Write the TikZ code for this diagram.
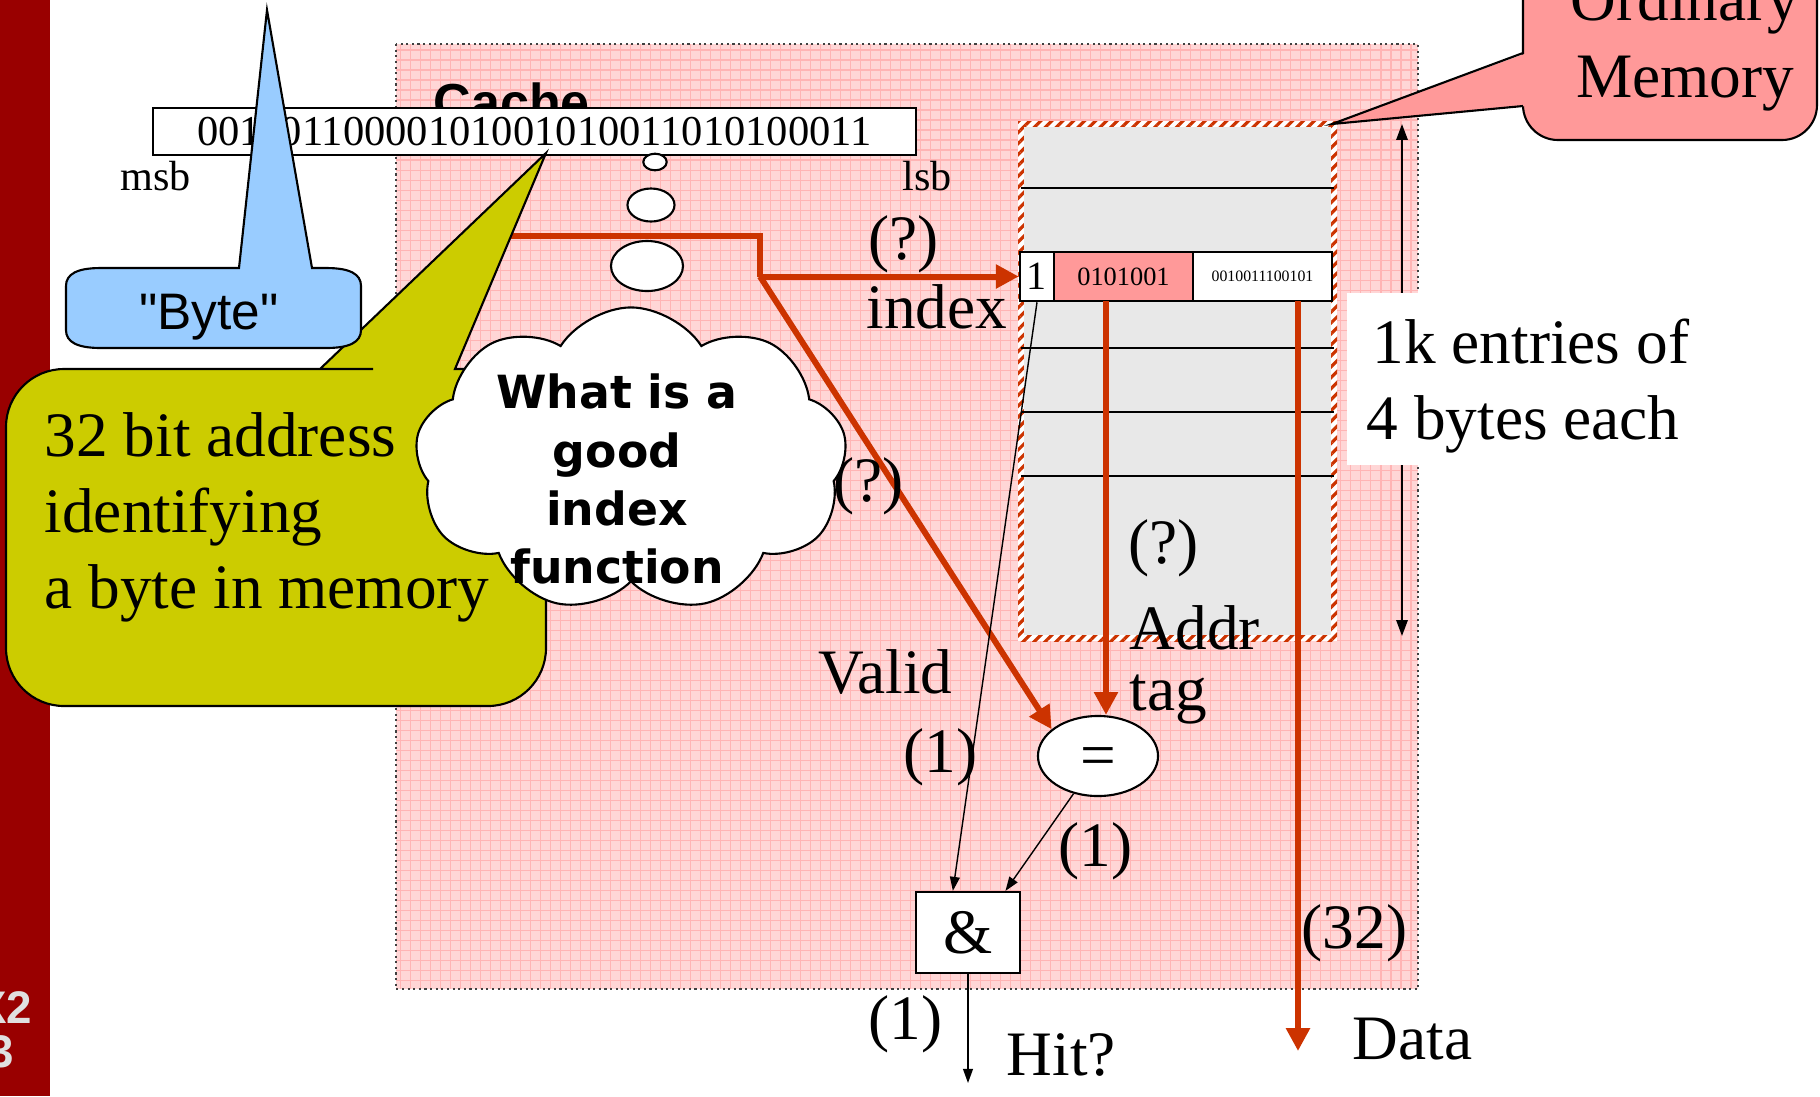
\documentclass[tikz,border=0pt]{standalone}
\usepackage{fontspec}
\setmainfont{Liberation Serif}
\newfontfamily\arialf{Liberation Sans}
\newfontfamily\verdf{DejaVu Sans}
\usetikzlibrary{arrows.meta,shapes.geometric,shapes.symbols,patterns.meta}

\definecolor{barred}{HTML}{990000}
\definecolor{barlight}{HTML}{E0E0E0}
\definecolor{cachepink}{HTML}{FFD6D6}
\definecolor{gridpink}{HTML}{FFB4B4}
\definecolor{redline}{HTML}{CC3300}
\definecolor{memgray}{HTML}{E8E8E8}
\definecolor{tagpink}{HTML}{FF9999}
\definecolor{yellowc}{HTML}{CCCC00}
\definecolor{bluec}{HTML}{99CCFF}

\newcommand{\setfs}[1]{\fontsize{#1}{#1}\selectfont}

\begin{document}
\begin{tikzpicture}[x=0.01cm,y=-0.01cm,
  lbl/.style={inner sep=0pt, anchor=base west, font=\setfs{18}},
  cell/.style={draw, fill=white, line width=0.7pt, minimum height=0.49cm, inner sep=0pt},
  redarrow/.style={redline, line width=1.7pt, -{Triangle[length=6.5pt,width=6.5pt]}},
  thinarrow/.style={line width=0.4pt, -{Triangle[length=4pt,width=2.8pt]}},
  cloudtxt/.style={inner sep=0pt, anchor=base, font=\verdf\bfseries\setfs{13}},
  bubble/.style={ellipse, draw, fill=white, line width=0.6pt, inner sep=0pt},
  bartxt/.style={inner sep=0pt, anchor=base east, font=\arialf\bfseries\setfs{13}, text=barlight}]

\useasboundingbox (0,0) rectangle (1820,1096);
\fill[white] (0,0) rectangle (1820,1096);
\fill[barred] (0,0) rectangle (50,1096);

% cache area with its grid texture
\fill[cachepink] (396,44) rectangle (1418,989);
\draw[gridpink, line width=0.35pt, step=0.1cm] (396,44) grid (1418,989);
\draw[black!75, densely dotted, line width=0.6pt] (396,44) rectangle (1418,989);
\node[lbl, font=\arialf\bfseries\setfs{14.8}] (cachelbl) at (433,120) {Cache};

% the 32-bit address
\node[draw, fill=white, line width=0.6pt, minimum width=7.63cm, minimum height=0.47cm,
      inner sep=0pt, font=\setfs{12.1}] (addr) at (534.5,131.5) {\raisebox{-0.03cm}{00110110000101001010011010100011}};
\node[lbl, font=\setfs{12}] (msb) at (120,190) {msb};
\node[lbl, font=\setfs{12}] (lsb) at (902,190) {lsb};

% memory array with hatched frame
\fill[white] (1018,121) rectangle (1337,641);
\fill[pattern={Lines[angle=45,distance=2.2pt,line width=0.9pt]}, pattern color=redline]
  (1018,121) rectangle (1337,641);
\fill[memgray] (1024,127) rectangle (1331,635);
\foreach \yy in {188,348,412,476} \draw[line width=0.45pt] (1021,\yy) -- (1334,\yy);
\node[cell, minimum width=0.34cm, font=\setfs{11.4}] (vbit) at (1037,276.5) {1};
\node[cell, fill=tagpink, minimum width=1.39cm, font=\setfs{7.5}] (tagbits) at (1123.5,276.5) {0101001};
\node[cell, minimum width=1.39cm, font=\setfs{4.5}] (databits) at (1262.5,276.5) {0010011100101};

% size of the array
\coordinate (sztop) at (1402,124);
\coordinate (szbot) at (1402,636);
\draw[line width=0.55pt, {Triangle[length=4.5pt,width=3.2pt]}-{Triangle[length=4.5pt,width=3.2pt]}] (sztop) -- (szbot);
\fill[white] (1347,293) rectangle (1500,465);
\node[lbl] (k1) at (1372,363) {1k entries of};
\node[lbl] (k2) at (1366,439) {4 bytes each};

% comparator and gate
\node[ellipse, draw, fill=white, line width=0.6pt, minimum width=1.2cm, minimum height=0.8cm,
      inner sep=0pt] (eq) at (1098,756) {};
\node[inner sep=0pt, anchor=base, font=\setfs{18}] (eqsym) at (1098,776) {=};
\node[draw, fill=white, line width=0.6pt, minimum width=1.04cm, minimum height=0.81cm,
      inner sep=0pt, font=\setfs{18}] (and) at (968,932.5) {\raisebox{-0.03cm}{\&}};

% index and data paths
\coordinate (rstart) at (490,236);
\coordinate (bend) at (760,276.5);
\draw[redline, line width=1.7pt] (rstart) -- (rstart -| bend) -- (bend);
\draw[redarrow] (bend) -- (vbit.west);
\draw[redarrow] (bend) -- (eq.150);
\coordinate (tagout) at (1106,301);
\draw[redarrow] (tagout) -- (tagout |- eq.north);
\coordinate (dataout) at (1298,301);
\coordinate (dataend) at (1298,1051);
\draw[redarrow] (dataout) -- (dataend);

\draw[thinarrow] (vbit.south) -- (and.110);
\draw[thinarrow] (eq.237) -- (and.48);
\coordinate (hitend) at (968,1083);
\draw[thinarrow] (and.south) -- (hitend);

% labels
\node[lbl] (q1) at (868,259) {(?)};
\node[lbl] (idx) at (866,328) {index};
\node[lbl] (q2) at (833,501) {(?)};
\node[lbl] (q3) at (1128,563) {(?)};
\node[lbl] (addrl) at (1129,649) {Addr};
\node[lbl] (tagl) at (1129,710) {tag};
\node[lbl] (valid) at (818,693) {Valid};
\node[lbl] (w1) at (903,772) {(1)};
\node[lbl] (w2) at (1058,866) {(1)};
\node[lbl] (w3) at (868,1039) {(1)};
\node[lbl] (w32) at (1301,948) {(32)};
\node[lbl] (hit) at (1006,1075) {Hit?};
\node[lbl] (data) at (1352,1059) {Data};

% yellow callout
\filldraw[fill=yellowc, line width=0.6pt] [rounded corners=0.58cm]
  (546,500) -- (546,706) -- (6,706) -- (6,369) -- (315,369) [sharp corners] -- (320,369)
  -- (546,153) -- (455,369) -- (460,369) [rounded corners=0.58cm] -- (546,369) -- cycle;
\node[lbl] (y1) at (44,456) {32 bit address};
\node[lbl] (y2) at (44,532) {identifying};
\node[lbl] (y3) at (44,608) {a byte in memory};

% blue callout
\filldraw[fill=bluec, line width=0.6pt]
  (239,268) -- (267,10) -- (312,268) -- (326,268)
  .. controls (350,268) and (361,274) .. (361,286) -- (361,330)
  .. controls (361,342) and (350,348) .. (326,348) -- (101,348)
  .. controls (77,348) and (66,342) .. (66,330) -- (66,286)
  .. controls (66,274) and (77,268) .. (101,268) -- cycle;
\node[inner sep=0pt, anchor=base, font=\arialf\setfs{14.6}] (byte) at (209,329) {"Byte"};

% thought bubbles and cloud
\node[bubble, minimum width=0.234cm, minimum height=0.166cm] (b1) at (655,162) {};
\node[bubble, minimum width=0.47cm, minimum height=0.33cm] (b2) at (651,205) {};
\node[bubble, minimum width=0.72cm, minimum height=0.5cm] (b3) at (647,266) {};
\node[cloud, cloud puffs=9, cloud puff arc=115, aspect=1.42, draw, fill=white, line width=0.6pt,
      minimum width=4.32cm, minimum height=3.05cm, inner sep=0pt] (cloud) at (631,460) {};
\node[cloudtxt] (c1) at (617,408) {What is a};
\node[cloudtxt] (c2) at (617,467) {good};
\node[cloudtxt] (c3) at (617,525) {index};
\node[cloudtxt] (c4) at (617,583) {function};

% memory callout: rounded box plus its pointer
\filldraw[fill=tagpink, line width=0.6pt, rounded corners=0.35cm] (1523,-80) rectangle (1817,140);
\fill[tagpink] (1527,53) -- (1332,124) -- (1527,106) -- cycle;
\draw[line width=0.6pt, line join=miter] (1523,53) -- (1332,124) -- (1523,106);
\node[inner sep=0pt, anchor=base, font=\setfs{18}] (ord) at (1685,20) {Ordinary};
\node[inner sep=0pt, anchor=base, font=\setfs{18}] (mem) at (1685,97) {Memory};

% side bar text
\node[bartxt] (bt1) at (33,1023) {X2};
\node[bartxt] (bt2) at (15,1067) {3};
\end{tikzpicture}
\end{document}
